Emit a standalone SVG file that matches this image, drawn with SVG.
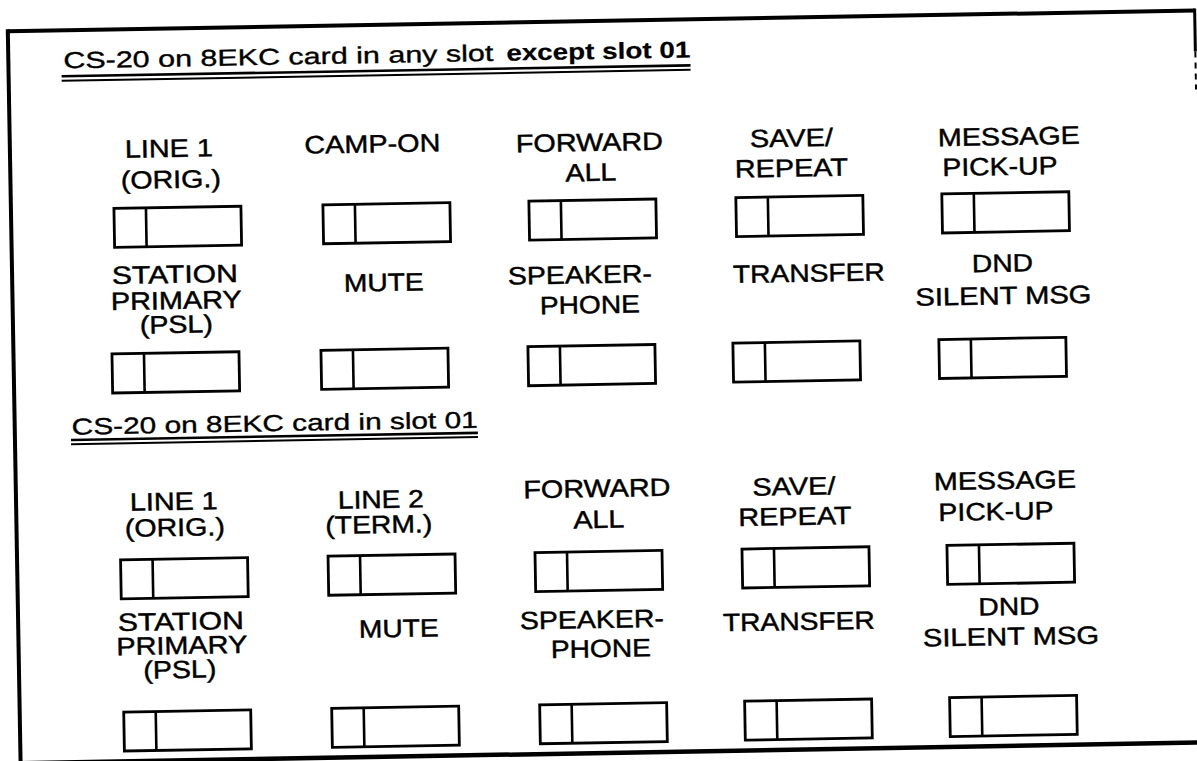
<svg xmlns="http://www.w3.org/2000/svg" xmlns:xlink="http://www.w3.org/1999/xlink" width="1197" height="761" viewBox="0 0 1197 761">
<style>
.frame{fill:none;stroke:#000;stroke-width:4}
.box{fill:none;stroke:#000;stroke-width:2.8}
.dv{stroke:#000;stroke-width:2.6}
.lbl{font-family:"Liberation Sans",Arial,Helvetica,sans-serif;font-size:25px;text-anchor:middle;fill:#000;stroke:#000;stroke-width:0.45}
.ttl{font-family:"Liberation Sans",Arial,Helvetica,sans-serif;font-size:23px;fill:#000;stroke:#000;stroke-width:0.35}
.bold{font-weight:bold;stroke-width:0.2}
.ul1{stroke:#000;stroke-width:2.6}
.ul2{stroke:#000;stroke-width:2}
</style>
<defs>
<g id="btn"><rect class="box" x="0" y="0" width="127" height="39"/><line class="dv" x1="32" y1="0" x2="32" y2="39"/></g>
</defs>
<rect x="0" y="0" width="1197" height="761" fill="#fff"/>
<g transform="rotate(-1 598 380)">
<g id="frame">
<line class="frame" x1="14" y1="21" x2="1201" y2="21"/>
<line class="frame" x1="14" y1="19" x2="14" y2="800"/>
<line class="frame" x1="1201" y1="19" x2="1201" y2="62" style="stroke-width:3"/>
<line class="frame" x1="1201" y1="62" x2="1201" y2="100" style="stroke-width:2;stroke-dasharray:6 5"/>
<line class="frame" x1="14" y1="753" x2="1215" y2="753" style="stroke-width:4.5"/>
</g>
<g id="title1">
<text class="ttl" x="69" y="59.1" textLength="430" lengthAdjust="spacingAndGlyphs">CS-20 on 8EKC card in any slot</text>
<text class="ttl bold" x="512" y="59.1" textLength="184" lengthAdjust="spacingAndGlyphs">except slot 01</text>
<line class="ul1" x1="67" y1="67" x2="696" y2="67"/>
<line class="ul2" x1="67" y1="71.5" x2="696" y2="71.5"/>
</g>
<g id="s1-line1"><text class="lbl" x="173" y="149.5" textLength="88" lengthAdjust="spacingAndGlyphs">LINE 1</text><text class="lbl" x="174.4" y="180.5" textLength="100" lengthAdjust="spacingAndGlyphs">(ORIG.)</text><use xlink:href="#btn" x="117" y="200"/></g>
<g id="s1-campon"><text class="lbl" x="376.5" y="148.5" textLength="136" lengthAdjust="spacingAndGlyphs">CAMP-ON</text><use xlink:href="#btn" x="326" y="200"/></g>
<g id="s1-forward"><text class="lbl" x="593.5" y="150.9" textLength="147" lengthAdjust="spacingAndGlyphs">FORWARD</text><text class="lbl" x="594.5" y="180.9" textLength="51" lengthAdjust="spacingAndGlyphs">ALL</text><use xlink:href="#btn" x="532" y="200"/></g>
<g id="s1-save"><text class="lbl" x="795.6" y="150" textLength="83" lengthAdjust="spacingAndGlyphs">SAVE/</text><text class="lbl" x="795" y="180" textLength="113" lengthAdjust="spacingAndGlyphs">REPEAT</text><use xlink:href="#btn" x="739" y="200"/></g>
<g id="s1-message"><text class="lbl" x="1013" y="152.2" textLength="142" lengthAdjust="spacingAndGlyphs">MESSAGE</text><text class="lbl" x="1003.6" y="182" textLength="115" lengthAdjust="spacingAndGlyphs">PICK-UP</text><use xlink:href="#btn" x="945" y="200"/></g>
<g id="s1-station"><text class="lbl" x="176.7" y="275.6" textLength="126" lengthAdjust="spacingAndGlyphs">STATION</text><text class="lbl" x="177.7" y="301.6" textLength="131" lengthAdjust="spacingAndGlyphs">PRIMARY</text><text class="lbl" x="177.3" y="325.6" textLength="73" lengthAdjust="spacingAndGlyphs">(PSL)</text><use xlink:href="#btn" x="112.5" y="345.5"/></g>
<g id="s1-mute"><text class="lbl" x="385.5" y="287.3" textLength="80" lengthAdjust="spacingAndGlyphs">MUTE</text><use xlink:href="#btn" x="321.5" y="345.5"/></g>
<g id="s1-speaker"><text class="lbl" x="581.7" y="283" textLength="144" lengthAdjust="spacingAndGlyphs">SPEAKER-</text><text class="lbl" x="591.2" y="313.2" textLength="100" lengthAdjust="spacingAndGlyphs">PHONE</text><use xlink:href="#btn" x="528.5" y="345.5"/></g>
<g id="s1-transfer"><text class="lbl" x="810.7" y="285.4" textLength="152" lengthAdjust="spacingAndGlyphs">TRANSFER</text><use xlink:href="#btn" x="733.5" y="345.5"/></g>
<g id="s1-dnd"><text class="lbl" x="1004.4" y="278.8" textLength="61" lengthAdjust="spacingAndGlyphs">DND</text><text class="lbl" x="1004.8" y="311.4" textLength="176" lengthAdjust="spacingAndGlyphs">SILENT MSG</text><use xlink:href="#btn" x="939.5" y="345.5"/></g>
<g id="title2">
<text class="ttl" x="71" y="425.5" textLength="406" lengthAdjust="spacingAndGlyphs">CS-20 on 8EKC card in slot 01</text>
<line class="ul1" x1="70" y1="430.8" x2="477" y2="430.8"/>
<line class="ul2" x1="70" y1="435" x2="477" y2="435"/>
</g>
<g id="s2-line1"><text class="lbl" x="171.7" y="502.6" textLength="88" lengthAdjust="spacingAndGlyphs">LINE 1</text><text class="lbl" x="172.3" y="528.6" textLength="100" lengthAdjust="spacingAndGlyphs">(ORIG.)</text><use xlink:href="#btn" x="117.5" y="551.5"/></g>
<g id="s2-line2"><text class="lbl" x="378.8" y="504.2" textLength="86" lengthAdjust="spacingAndGlyphs">LINE 2</text><text class="lbl" x="376.3" y="529.2" textLength="107" lengthAdjust="spacingAndGlyphs">(TERM.)</text><use xlink:href="#btn" x="325" y="551.5"/></g>
<g id="s2-forward"><text class="lbl" x="595" y="497" textLength="147" lengthAdjust="spacingAndGlyphs">FORWARD</text><text class="lbl" x="596.4" y="528" textLength="51" lengthAdjust="spacingAndGlyphs">ALL</text><use xlink:href="#btn" x="532" y="551.5"/></g>
<g id="s2-save"><text class="lbl" x="792" y="498.4" textLength="83" lengthAdjust="spacingAndGlyphs">SAVE/</text><text class="lbl" x="792.5" y="528.4" textLength="113" lengthAdjust="spacingAndGlyphs">REPEAT</text><use xlink:href="#btn" x="739" y="551.5"/></g>
<g id="s2-message"><text class="lbl" x="1003.1" y="496.1" textLength="142" lengthAdjust="spacingAndGlyphs">MESSAGE</text><text class="lbl" x="993.6" y="526.9" textLength="115" lengthAdjust="spacingAndGlyphs">PICK-UP</text><use xlink:href="#btn" x="944" y="551.5"/></g>
<g id="s2-station"><text class="lbl" x="176.6" y="622.7" textLength="126" lengthAdjust="spacingAndGlyphs">STATION</text><text class="lbl" x="177.2" y="646.7" textLength="131" lengthAdjust="spacingAndGlyphs">PRIMARY</text><text class="lbl" x="174.8" y="670.7" textLength="73" lengthAdjust="spacingAndGlyphs">(PSL)</text><use xlink:href="#btn" x="118" y="703.7"/></g>
<g id="s2-mute"><text class="lbl" x="394.5" y="633.5" textLength="80" lengthAdjust="spacingAndGlyphs">MUTE</text><use xlink:href="#btn" x="326" y="703.7"/></g>
<g id="s2-speaker"><text class="lbl" x="587.7" y="627.9" textLength="144" lengthAdjust="spacingAndGlyphs">SPEAKER-</text><text class="lbl" x="596.2" y="657.1" textLength="100" lengthAdjust="spacingAndGlyphs">PHONE</text><use xlink:href="#btn" x="534" y="703.7"/></g>
<g id="s2-transfer"><text class="lbl" x="794.6" y="633.5" textLength="152" lengthAdjust="spacingAndGlyphs">TRANSFER</text><use xlink:href="#btn" x="739" y="703.7"/></g>
<g id="s2-dnd"><text class="lbl" x="1004.9" y="622.2" textLength="61" lengthAdjust="spacingAndGlyphs">DND</text><text class="lbl" x="1006.4" y="652.2" textLength="176" lengthAdjust="spacingAndGlyphs">SILENT MSG</text><use xlink:href="#btn" x="944" y="703.7"/></g>
</g>
</svg>
